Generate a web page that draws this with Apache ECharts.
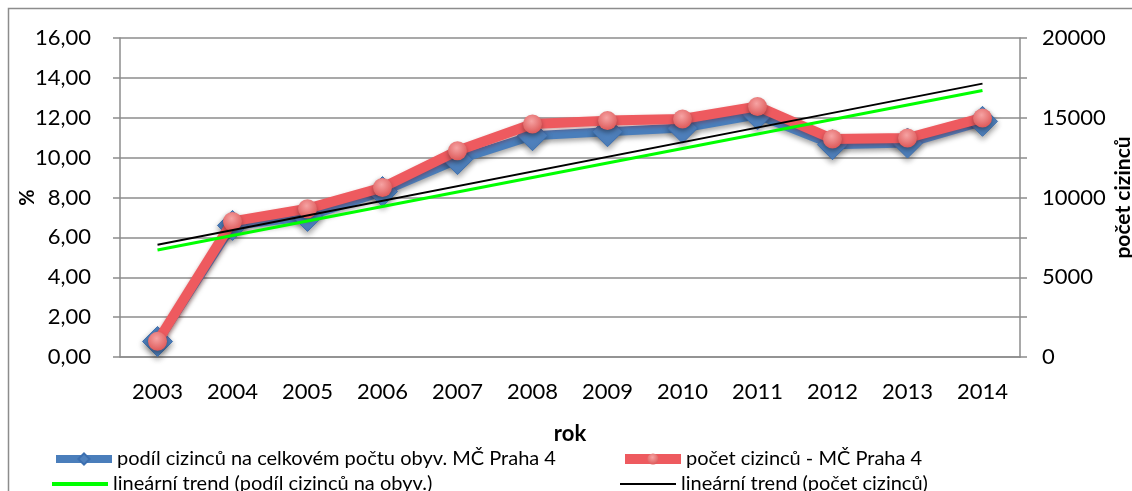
<!DOCTYPE html>
<html>
<head>
<meta charset="utf-8">
<script src="https://cdn.jsdelivr.net/npm/echarts@6/dist/echarts.min.js"></script>
<style>
html,body{margin:0;padding:0;background:#fff}
#main{width:1132px;height:491px}
</style>
</head>
<body>
<div id="main"></div>
<script>
// roky
var years = ['2003','2004','2005','2006','2007','2008','2009','2010','2011','2012','2013','2014'];
// podíl cizinců v % (levá osa)
var podil = [0.78, 6.6, 7.05, 8.3, 9.9, 11.1, 11.3, 11.48, 12.15, 10.65, 10.73, 11.82];
// počet cizinců (pravá osa)
var pocet = [980, 8500, 9300, 10630, 12930, 14610, 14820, 14920, 15710, 13670, 13730, 14990];
// lineární trendy - hodnoty na začátku a konci (2003, 2014)
var trendPodil = [5.37, 13.37];
var trendPocet = [7040, 17140];

var names = [
  'podíl cizinců na celkovém počtu obyv. MČ Praha 4',
  'počet cizinců - MČ Praha 4',
  'lineární trend (podíl cizinců na obyv.)',
  'lineární trend (počet cizinců)'
];
var font = 'Lato';
var gridGray = '#8c8c8c';

// ikona legendy - tenká čára (neviditelné body drží rozměr 56x14)
function lineIcon(w) {
  var a = 7 - w / 2, b = 7 + w / 2;
  return 'path://M0,0L0,0M56,14L56,14M0,' + a + 'L56,' + a + 'L56,' + b + 'L0,' + b + 'Z';
}

function legendAt(left, top, item, lw) {
  return {
    orient: 'horizontal', left: left, top: top, padding: 0,
    itemWidth: 56, itemHeight: 14,
    lineStyle: {width: lw},
    textStyle: {fontFamily: font, fontSize: 20, color: '#000'},
    data: [item]
  };
}

var myChart = echarts.init(document.getElementById('main'));
myChart.setOption({
  animation: false,
  textStyle: {fontFamily: font, color: '#000'},
  graphic: [{
    type: 'rect',
    shape: {x: 8.5, y: 8.5, width: 1200, height: 600},
    style: {fill: 'none', stroke: '#8c8c8c', lineWidth: 1.5},
    silent: true
  }],
  grid: {left: 120, right: 112, top: 38, bottom: 134, outerBoundsMode: 'none', containLabel: false},
  legend: [
    legendAt(52, 449, names[0], 8),
    legendAt(52, 474, {name: names[2], icon: lineIcon(4)}, 4),
    legendAt(620, 449, names[1], 10),
    legendAt(620, 474, {name: names[3], icon: lineIcon(2)}, 2)
  ],
  xAxis: {
    type: 'category',
    data: years,
    boundaryGap: true,
    name: 'rok',
    nameLocation: 'middle',
    nameGap: 66,
    nameTextStyle: {fontFamily: font, fontSize: 22, fontWeight: 'bold', color: '#000'},
    axisLine: {lineStyle: {color: gridGray, width: 1.5}},
    axisTick: {show: false},
    axisLabel: {fontFamily: font, fontSize: 22, color: '#000', margin: 24}
  },
  yAxis: [{
    type: 'value',
    min: 0, max: 16, interval: 2,
    name: '%',
    nameLocation: 'middle',
    nameGap: 82,
    nameMoveOverlap: false,
    nameTextStyle: {fontFamily: font, fontSize: 20, fontWeight: 'bold', color: '#000'},
    axisLine: {show: true, lineStyle: {color: gridGray, width: 1.5}},
    axisTick: {show: true, length: 7, lineStyle: {color: gridGray, width: 1.5}},
    axisLabel: {
      fontFamily: font, fontSize: 22, color: '#000', margin: 29,
      formatter: function (v) { return v.toFixed(2).replace('.', ','); }
    },
    splitLine: {lineStyle: {color: gridGray, width: 1.5}}
  }, {
    type: 'value',
    min: 0, max: 20000, interval: 2500,
    name: 'počet cizinců',
    nameLocation: 'middle',
    nameGap: 93,
    nameMoveOverlap: false,
    nameRotate: 90,
    nameTextStyle: {fontFamily: font, fontSize: 21, fontWeight: 'bold', color: '#000'},
    axisLine: {show: true, lineStyle: {color: gridGray, width: 1.5}},
    axisTick: {show: true, length: 7, lineStyle: {color: gridGray, width: 1.5}},
    axisLabel: {
      fontFamily: font, fontSize: 22, color: '#000', margin: 22,
      formatter: function (v) { return v % 5000 === 0 ? String(v) : ''; }
    },
    splitLine: {show: false}
  }],
  series: [{
    name: names[0],
    type: 'line',
    yAxisIndex: 0,
    data: podil,
    z: 2,
    symbol: 'diamond',
    symbolSize: 30,
    lineStyle: {color: '#4a7ebb', width: 9, shadowBlur: 5, shadowColor: 'rgba(0,0,0,0.35)', shadowOffsetY: 3},
    itemStyle: {color: '#4f81bd', borderColor: '#3c6fb0', borderWidth: 1,
      shadowBlur: 6, shadowColor: 'rgba(0,0,0,0.4)', shadowOffsetY: 3}
  }, {
    name: names[1],
    type: 'line',
    yAxisIndex: 1,
    data: pocet,
    z: 3,
    symbol: 'circle',
    symbolSize: 19,
    lineStyle: {color: '#ee5a5f', width: 10, shadowBlur: 4, shadowColor: 'rgba(120,0,0,0.35)', shadowOffsetY: 2},
    itemStyle: {
      color: {type: 'radial', x: 0.45, y: 0.35, r: 0.7,
        colorStops: [{offset: 0, color: '#f6a3a3'}, {offset: 1, color: '#dc5454'}]},
      shadowBlur: 5, shadowColor: 'rgba(0,0,0,0.35)', shadowOffsetY: 3
    }
  }, {
    name: names[2],
    type: 'line',
    yAxisIndex: 0,
    data: [[years[0], trendPodil[0]], [years[years.length - 1], trendPodil[1]]],
    z: 4,
    symbol: 'none',
    lineStyle: {color: '#00ff00', width: 3},
    itemStyle: {color: '#00ff00'}
  }, {
    name: names[3],
    type: 'line',
    yAxisIndex: 1,
    data: [[years[0], trendPocet[0]], [years[years.length - 1], trendPocet[1]]],
    z: 4,
    symbol: 'none',
    lineStyle: {color: '#000', width: 2},
    itemStyle: {color: '#000'}
  }]
});
</script>
</body>
</html>
